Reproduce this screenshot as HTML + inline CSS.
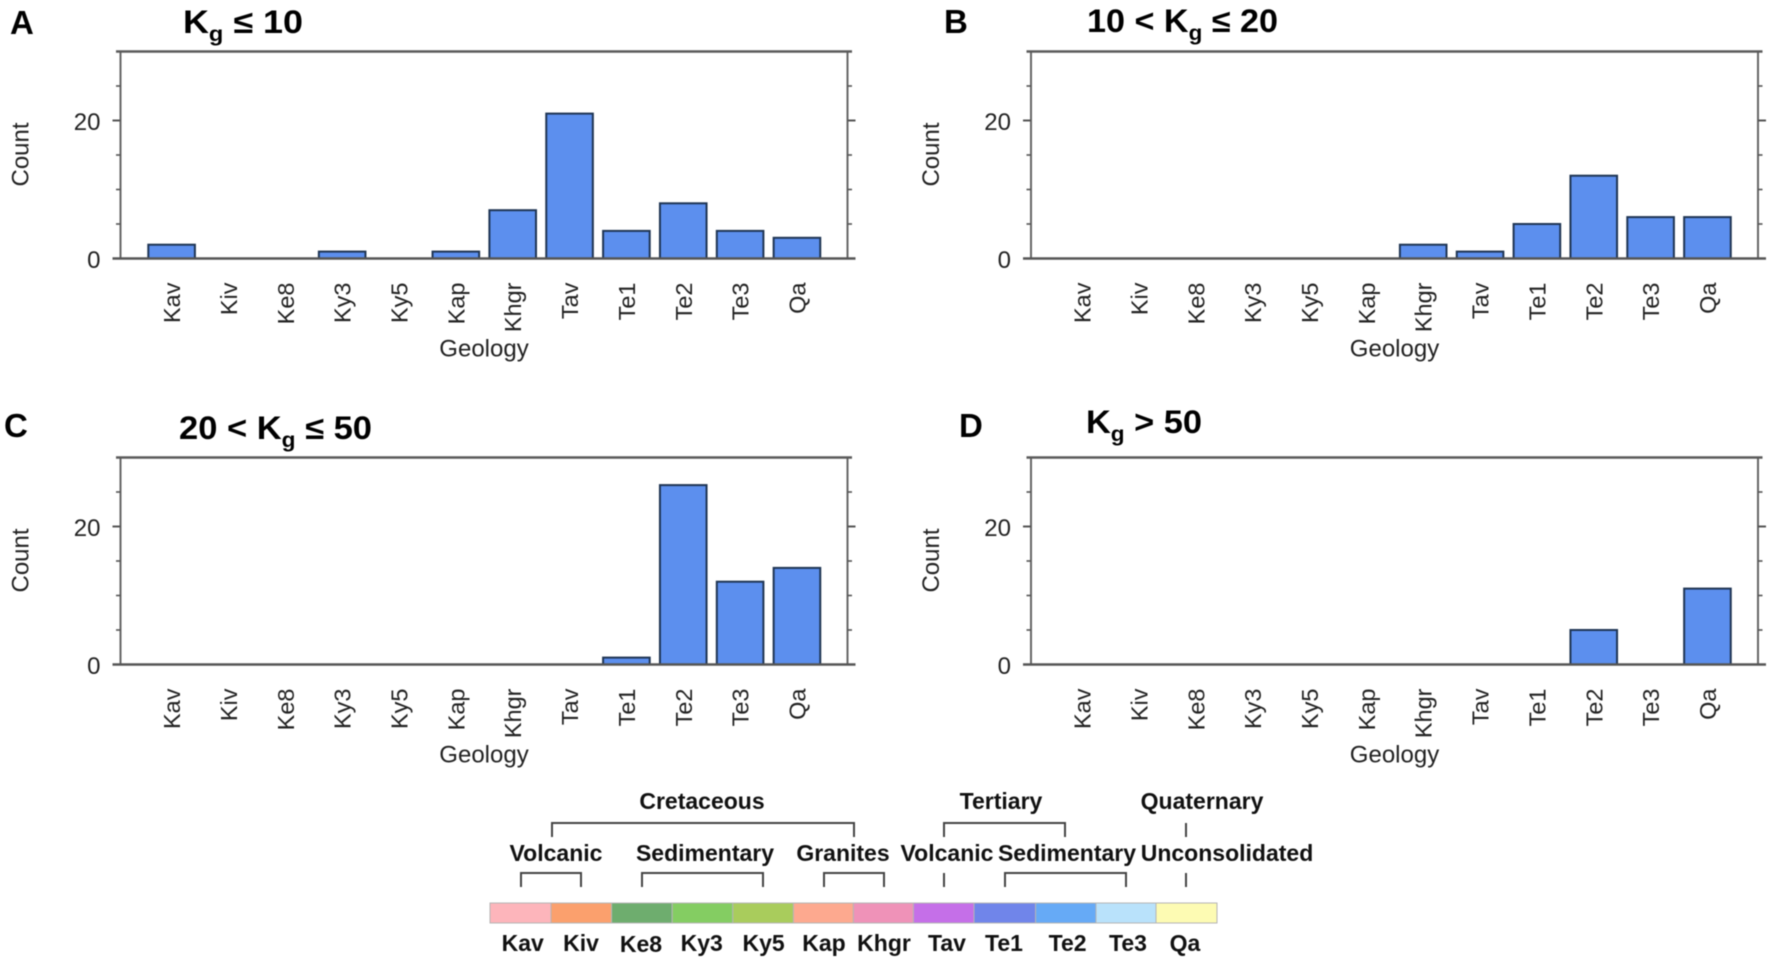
<!DOCTYPE html>
<html lang="en">
<head>
<meta charset="utf-8">
<title>Geology counts by Kg class</title>
<style>
html,body{margin:0;padding:0;background:#fff;}
svg{display:block;filter:blur(0.45px);}
text{font-family:"Liberation Sans",sans-serif;}
.tick{font-size:24px;fill:#222;}
.axis-title{font-size:24px;fill:#222;}
.cat{font-size:23.5px;fill:#222;}
.letter{font-size:33px;font-weight:bold;fill:#000;}
.ptitle{font-size:32px;font-weight:bold;fill:#000;}
.ptitle .sub{font-size:21px;}
.lg{font-size:23px;font-weight:bold;fill:#111;text-anchor:middle;}
.br{fill:none;stroke:#444;stroke-width:2;}
.seg{stroke:#b5b5b5;stroke-width:1;}
</style>
</head>
<body>
<svg id="figure" xmlns="http://www.w3.org/2000/svg" width="1772" height="961" viewBox="0 0 1772 961">
  <rect x="0" y="0" width="1772" height="961" fill="#fff"/>

  <text class="letter" x="10" y="34">A</text>
  <text class="letter" x="944" y="33">B</text>
  <text class="letter" x="4" y="437">C</text>
  <text class="letter" x="959" y="437">D</text>

  <text class="ptitle" x="183" y="33" textLength="120" lengthAdjust="spacingAndGlyphs">K<tspan class="sub" dy="8">g</tspan><tspan dy="-8"> ≤ 10</tspan></text>
  <text class="ptitle" x="1087" y="32" textLength="191" lengthAdjust="spacingAndGlyphs">10 &lt; K<tspan class="sub" dy="8">g</tspan><tspan dy="-8"> ≤ 20</tspan></text>
  <text class="ptitle" x="179" y="439" textLength="193" lengthAdjust="spacingAndGlyphs">20 &lt; K<tspan class="sub" dy="8">g</tspan><tspan dy="-8"> ≤ 50</tspan></text>
  <text class="ptitle" x="1086" y="433" textLength="116" lengthAdjust="spacingAndGlyphs">K<tspan class="sub" dy="8">g</tspan><tspan dy="-8"> &gt; 50</tspan></text>

  <g id="panels"></g>

  <g>
    <text class="lg" x="702" y="809">Cretaceous</text>
    <text class="lg" x="1001" y="809">Tertiary</text>
    <text class="lg" x="1202" y="809">Quaternary</text>
    <text class="lg" x="556" y="861">Volcanic</text>
    <text class="lg" x="705" y="861">Sedimentary</text>
    <text class="lg" x="843" y="861">Granites</text>
    <text class="lg" x="947" y="861">Volcanic</text>
    <text class="lg" x="1067" y="861">Sedimentary</text>
    <text class="lg" x="1227" y="861">Unconsolidated</text>

    <path class="br" d="M552 837V823H854V837"/>
    <path class="br" d="M944 837V823H1065V837"/>
    <path class="br" d="M1186 823V837"/>
    <path class="br" d="M521 887V873H581V887"/>
    <path class="br" d="M642 887V873H763V887"/>
    <path class="br" d="M824 887V873H884V887"/>
    <path class="br" d="M944 873V887"/>
    <path class="br" d="M1005 887V873H1126V887"/>
    <path class="br" d="M1186 873V887"/>

    <rect class="seg" x="490" y="903" width="61" height="20" fill="#fdb5bb"/>
    <rect class="seg" x="551" y="903" width="60.6" height="20" fill="#fba06d"/>
    <rect class="seg" x="611.6" y="903" width="60.6" height="20" fill="#6ead6e"/>
    <rect class="seg" x="672.2" y="903" width="60.6" height="20" fill="#84cd62"/>
    <rect class="seg" x="732.8" y="903" width="60.6" height="20" fill="#a9cc5c"/>
    <rect class="seg" x="793.4" y="903" width="60" height="20" fill="#fda98f"/>
    <rect class="seg" x="853.4" y="903" width="60" height="20" fill="#ef92b8"/>
    <rect class="seg" x="913.4" y="903" width="60.6" height="20" fill="#c56fe8"/>
    <rect class="seg" x="974" y="903" width="61.6" height="20" fill="#7085ea"/>
    <rect class="seg" x="1035.6" y="903" width="60.4" height="20" fill="#66aaf6"/>
    <rect class="seg" x="1096" y="903" width="60" height="20" fill="#b9e2fb"/>
    <rect class="seg" x="1156" y="903" width="61" height="20" fill="#fdfbb3"/>

    <text class="lg" x="522.7" y="951">Kav</text>
    <text class="lg" x="581" y="951">Kiv</text>
    <text class="lg" x="641" y="952">Ke8</text>
    <text class="lg" x="701.7" y="951">Ky3</text>
    <text class="lg" x="763.6" y="951">Ky5</text>
    <text class="lg" x="824" y="951">Kap</text>
    <text class="lg" x="884" y="951">Khgr</text>
    <text class="lg" x="947" y="951">Tav</text>
    <text class="lg" x="1004" y="951">Te1</text>
    <text class="lg" x="1067.6" y="951">Te2</text>
    <text class="lg" x="1128" y="951">Te3</text>
    <text class="lg" x="1185" y="951">Qa</text>
  </g>
</svg>

<script>
const categories = ["Kav","Kiv","Ke8","Ky3","Ky5","Kap","Khgr","Tav","Te1","Te2","Te3","Qa"];
const valuesA = [2,0,0,1,0,1,7,21,4,8,4,3];
const valuesB = [0,0,0,0,0,0,2,1,5,12,6,6];
const valuesC = [0,0,0,0,0,0,0,0,1,26,12,14];
const valuesD = [0,0,0,0,0,0,0,0,0,5,0,11];
const labelledTicks = [0,20];
const minorTicks = [5,10,15,25,30];
const yMax = 30;

const SVGNS = "http://www.w3.org/2000/svg";
const root = document.getElementById("panels");

function make(tag, parent, attrs, text) {
  const el = document.createElementNS(SVGNS, tag);
  for (const k in attrs) el.setAttribute(k, attrs[k]);
  if (text !== undefined) el.textContent = text;
  parent.appendChild(el);
  return el;
}

function drawPanel(id, values, dx, baseY) {
  const plotHeight = 207;
  const plotLeft = 120.5 + dx, plotRight = 847.5 + dx;
  const firstCenter = 171.6 + dx, step = 56.85, barWidth = 46.6;
  const xScale = function (i) { return firstCenter + step * i; };
  const yScale = function (v) { return baseY - (v / yMax) * plotHeight; };

  const g = make("g", root, {});
  
  

  values.forEach(function (v, i) {
    const bar = make("rect", g, {
      x: xScale(i) - barWidth / 2, y: yScale(v), width: barWidth, height: Math.max(0, baseY - yScale(v)),
      fill: "#5c8fee", stroke: "#1f3554", "stroke-width": 2
    });
    
    
  });

  const left = make("line", g, { x1: plotLeft, x2: plotLeft, y1: yScale(yMax), y2: baseY, stroke: "#666", "stroke-width": 2 });
  
  

  const right = make("line", g, { x1: plotRight, x2: plotRight, y1: yScale(yMax), y2: baseY, stroke: "#666", "stroke-width": 2 });
  
  

  const top = make("line", g, { x1: plotLeft - 4.5, x2: plotRight + 4.5, y1: yScale(yMax), y2: yScale(yMax), stroke: "#5a5a5a", "stroke-width": 2.6 });
  
  

  const base = make("line", g, { x1: plotLeft - 8, x2: plotRight + 8, y1: baseY, y2: baseY, stroke: "#555", "stroke-width": 2.4 });
  
  

  minorTicks.forEach(function (t) {
    if (t === yMax) return;
    const tl = make("line", g, { x1: plotLeft - 4.5, x2: plotLeft, y1: yScale(t), y2: yScale(t), stroke: "#555", "stroke-width": 1.6 });
    
    
    const tr = make("line", g, { x1: plotRight, x2: plotRight + 4.5, y1: yScale(t), y2: yScale(t), stroke: "#555", "stroke-width": 1.6 });
    
    
  });

  labelledTicks.forEach(function (t) {
    if (t !== 0) {
      const tl = make("line", g, { x1: plotLeft - 8, x2: plotLeft, y1: yScale(t), y2: yScale(t), stroke: "#555", "stroke-width": 2 });
      
      
      const tr = make("line", g, { x1: plotRight, x2: plotRight + 8, y1: yScale(t), y2: yScale(t), stroke: "#555", "stroke-width": 2 });
      
      
    }
    const lab = make("text", g, { class: "tick", x: 100.5 + dx, y: yScale(t) + 9.5, "text-anchor": "end" }, String(t));
    
    
  });

  categories.forEach(function (c, i) {
    const x = xScale(i) + 8.5, y = baseY + 24;
    const lab = make("text", g, { class: "cat", x: x, y: y, "text-anchor": "end", transform: "rotate(-90 " + x + " " + y + ")" }, c);
    
    
  });

  const xt = make("text", g, { class: "axis-title", x: 484 + dx, y: baseY + 98, "text-anchor": "middle" }, "Geology");
  
  

  const ty = baseY - 104, tx = 28.5 + dx;
  const yt = make("text", g, { class: "axis-title", x: tx, y: ty, "text-anchor": "middle", transform: "rotate(-90 " + tx + " " + ty + ")" }, "Count");
  
  
}

drawPanel("a", valuesA, 0, 258.5);
drawPanel("b", valuesB, 910.5, 258.5);
drawPanel("c", valuesC, 0, 664.5);
drawPanel("d", valuesD, 910.5, 664.5);
</script>
</body>
</html>
